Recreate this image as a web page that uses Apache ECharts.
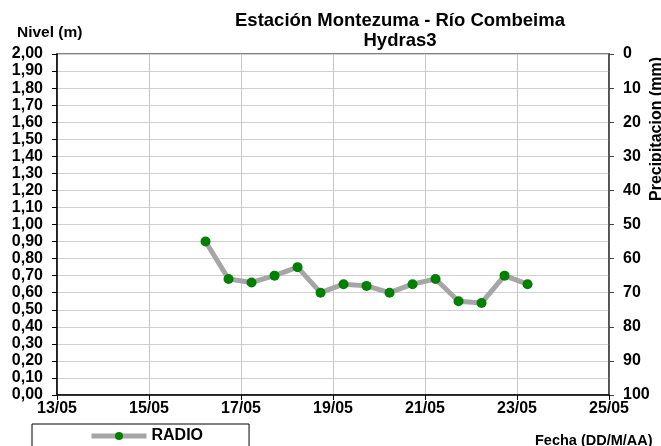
<!DOCTYPE html>
<html>
<head>
<meta charset="utf-8">
<script src="https://cdn.jsdelivr.net/npm/echarts@6/dist/echarts.min.js"></script>
<style>
  html, body { margin: 0; padding: 0; background: #fff; }
  #chart { width: 661px; height: 446px; }
</style>
</head>
<body>
<div id="chart"></div>
<script>
// fechas de las lecturas (DD/MM HH:MM)
const fechas = [
  '16/05 05:30', '16/05 17:30', '17/05 05:30', '17/05 17:30', '18/05 05:30',
  '18/05 17:30', '19/05 05:30', '19/05 17:30', '20/05 05:30', '20/05 17:30',
  '21/05 05:30', '21/05 17:30', '22/05 05:30', '22/05 17:30', '23/05 05:30'
];
// nivel RADIO (m)
const nivelRadio = [0.90, 0.68, 0.66, 0.70, 0.75, 0.60, 0.65, 0.64, 0.60, 0.65, 0.68, 0.55, 0.54, 0.70, 0.65];

// eje X en días del mes
const diaMin = 13, diaMax = 25, diaPaso = 2;

const FONT = 'Liberation Sans, Arial, sans-serif';

// convierte 'DD/MM HH:MM' a día con fracción
function aDia(s) {
  const [fecha, hora] = s.split(' ');
  const d = Number(fecha.split('/')[0]);
  const [h, m] = hora.split(':').map(Number);
  return d + (h + m / 60) / 24;
}

const puntos = fechas.map((f, i) => [aDia(f), nivelRadio[i]]);

const chart = echarts.init(document.getElementById('chart'), null, { renderer: 'canvas' });

const labelStyle = { color: '#000', fontWeight: 'bold', fontSize: 16, fontFamily: FONT };

chart.setOption({
  animation: false,
  title: [
    {
      text: 'Estación Montezuma - Río Combeima\nHydras3',
      left: 395, top: 6, textAlign: 'center',
      textStyle: { color: '#000', fontWeight: 'bold', fontSize: 18.5, lineHeight: 20, fontFamily: FONT }
    },
    {
      text: 'Nivel (m)', left: 12, top: 20,
      textStyle: { color: '#000', fontWeight: 'bold', fontSize: 15.5, fontFamily: FONT }
    },
    {
      text: 'Fecha (DD/M/AA)', left: 530, top: 428,
      textStyle: { color: '#000', fontWeight: 'bold', fontSize: 14.5, fontFamily: FONT }
    }
  ],
  graphic: [
    {
      type: 'text', x: 657, y: 129, rotation: Math.PI / 2,
      style: {
        text: 'Precipitacion (mm)', fill: '#000', align: 'center', verticalAlign: 'middle',
        font: 'bold 16px ' + FONT
      }
    }
  ],
  legend: {
    left: 32, top: 424,
    padding: [4, 46, 20, 57],
    itemWidth: 55, itemHeight: 10, itemGap: 4,
    borderColor: '#000', borderWidth: 1,
    lineStyle: { width: 5 },
    textStyle: { color: '#000', fontWeight: 'bold', fontSize: 16, fontFamily: FONT },
    data: ['RADIO']
  },
  grid: {
    left: 57, right: 52, top: 54, bottom: 51,
    show: true, borderColor: '#808080', borderWidth: 2
  },
  xAxis: {
    type: 'value',
    min: diaMin, max: diaMax, interval: diaPaso,
    axisLine: { lineStyle: { color: '#000', width: 1.5 } },
    axisTick: { show: true, length: 5, lineStyle: { color: '#000' } },
    axisLabel: Object.assign({}, labelStyle, {
      margin: 6,
      formatter: v => String(v).padStart(2, '0') + '/05'
    }),
    splitLine: { show: true, lineStyle: { color: '#c8c8c8', width: 1 } }
  },
  yAxis: [
    {
      type: 'value',
      min: 0, max: 2, interval: 0.1,
      axisLine: { show: true, lineStyle: { color: '#000', width: 1.5 } },
      axisTick: { show: true, length: 5, lineStyle: { color: '#000' } },
      axisLabel: Object.assign({}, labelStyle, {
        margin: 14,
        formatter: v => v.toFixed(2).replace('.', ',')
      }),
      splitLine: { show: true, lineStyle: { color: '#d0d0d0', width: 1 } }
    },
    {
      type: 'value',
      position: 'right',
      inverse: true,
      min: 0, max: 100, interval: 10,
      axisLine: { show: true, lineStyle: { color: '#404040', width: 1.5 } },
      axisTick: { show: true, inside: false, length: 5, lineStyle: { color: '#404040' } },
      axisLabel: Object.assign({}, labelStyle, { margin: 14 }),
      splitLine: { show: false }
    }
  ],
  series: [
    {
      name: 'RADIO',
      type: 'line',
      data: puntos,
      symbol: 'circle',
      symbolSize: 10,
      lineStyle: { color: '#a6a6a6', width: 5 },
      itemStyle: { color: '#008000', borderWidth: 0 }
    }
  ]
});
</script>
</body>
</html>
